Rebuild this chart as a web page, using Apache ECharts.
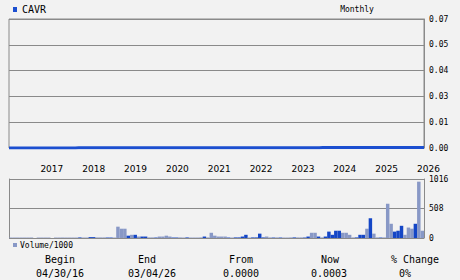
<!DOCTYPE html>
<html>
<head>
<meta charset="utf-8">
<script src="https://cdn.jsdelivr.net/npm/echarts@6/dist/echarts.min.js"></script>
<style>
html,body{margin:0;padding:0;background:#f2f2f2;}
#c{width:460px;height:280px;}
</style>
</head>
<body>
<div id="c"></div>
<script>
// ---- data ----
const startYear = 2016, startMonth = 4, monthCount = 120; // 04/2016 .. 03/2026
const yearLabels = ['2017','2018','2019','2020','2021','2022','2023','2024','2025','2026'];
const priceTicks = ['0.00','0.01','0.03','0.04','0.05','0.07'];
const volumeTicks = ['0','508','1016'];

// monthly close (tiny, hugs zero)
const prices = [
0.0000,0.0000,0.0000,0.0000,0.0000,0.0000,0.0000,0.0000,0.0000,0.0000,
0.0000,0.0000,0.0000,0.0000,0.0000,0.0000,0.0000,0.0000,0.0000,0.0000,
0.0001,0.0001,0.0001,0.0001,0.0001,0.0001,0.0001,0.0001,0.0001,0.0001,
0.0001,0.0001,0.0001,0.0001,0.0001,0.0001,0.0001,0.0001,0.0001,0.0001,
0.0001,0.0001,0.0001,0.0001,0.0001,0.0001,0.0001,0.0001,0.0001,0.0001,
0.0001,0.0001,0.0001,0.0001,0.0001,0.0001,0.0001,0.0001,0.0001,0.0001,
0.0001,0.0001,0.0001,0.0001,0.0001,0.0001,0.0001,0.0001,0.0001,0.0001,
0.0001,0.0001,0.0001,0.0001,0.0001,0.0001,0.0001,0.0001,0.0001,0.0001,
0.0001,0.0001,0.0001,0.0001,0.0001,0.0001,0.0001,0.0001,0.0001,0.0001,
0.0002,0.0002,0.0002,0.0002,0.0002,0.0002,0.0002,0.0002,0.0002,0.0002,
0.0002,0.0002,0.0002,0.0002,0.0002,0.0002,0.0002,0.0002,0.0003,0.0003,
0.0003,0.0003,0.0003,0.0003,0.0003,0.0003,0.0003,0.0003,0.0003,0.0003
];

// monthly volume / 1000
const volumes = [
8,8,8,8,8,8,8,0,8,8,
8,8,0,8,8,8,8,8,8,8,
10,8,8,15,15,10,10,10,8,8,
8,195,160,160,40,55,55,25,25,25,
10,10,8,25,25,40,25,8,8,10,
8,10,8,8,8,10,25,10,90,40,
25,25,25,8,8,10,10,25,55,8,
10,10,75,10,25,10,8,10,8,8,
8,10,10,10,10,8,25,90,90,25,
10,25,110,55,125,125,90,90,55,10,
10,55,55,160,340,75,10,8,10,590,
245,110,125,210,55,180,160,245,970,125
];
// 1 = up month (dark blue bar), 0 = down month (light bar)
const upMonth = [
0,0,0,0,0,0,0,0,0,0,
0,0,0,0,0,0,0,0,0,0,
1,0,0,1,1,0,0,0,1,1,
0,0,0,0,1,0,1,0,1,1,
0,0,1,0,0,0,0,1,1,0,
0,1,0,0,0,0,1,0,0,0,
0,0,0,1,0,1,1,1,1,0,
1,1,1,1,0,0,1,0,1,0,
0,0,1,0,0,1,1,0,0,1,
0,1,1,1,1,1,0,0,0,0,
1,1,1,0,1,0,0,1,0,0,
0,1,1,1,0,0,0,1,0,0
];

// ---- build ----
const months = [];
for (let i = 0; i < monthCount; i++) {
  const m0 = startMonth - 1 + i;
  const y = startYear + Math.floor(m0 / 12);
  const m = (m0 % 12) + 1;
  months.push(y + '-' + (m < 10 ? '0' + m : '' + m));
}
const BLUE_LINE = '#1c4fd0';
const UP = '#1446c6';
const DOWN = '#8898c6';
const GRIDC = '#8a8a8a';
const MONO = '"DejaVu Sans Mono", monospace';

const chart = echarts.init(document.getElementById('c'), null, {renderer: 'svg'});
chart.setOption({
  backgroundColor: '#f2f2f2',
  animation: false,
  grid: [
    {left: 9, right: 36, top: 19, height: 129, show: true, borderColor: GRIDC, borderWidth: 1, backgroundColor: 'transparent'},
    {left: 9, right: 36, top: 179, height: 59}
  ],
  xAxis: [
    {
      type: 'category', gridIndex: 0, data: months, boundaryGap: false,
      axisLine: {show: false}, axisTick: {show: false}, splitLine: {show: false},
      axisLabel: {
        show: true, margin: 16, align: 'left', color: '#000',
        fontFamily: '"DejaVu Sans", sans-serif', fontSize: 9,
        interval: function (idx, val) { return val.slice(5) === '01' && yearLabels.indexOf(val.slice(0, 4)) >= 0; },
        formatter: function (val) { return val.slice(0, 4); }
      }
    },
    {
      type: 'category', gridIndex: 1, data: months, boundaryGap: true,
      axisLine: {show: false}, axisTick: {show: false}, axisLabel: {show: false}, splitLine: {show: false}
    }
  ],
  yAxis: [
    {
      type: 'value', gridIndex: 0, position: 'right', min: 0, max: 0.066, interval: 0.0132,
      axisLine: {show: true, lineStyle: {color: GRIDC, width: 1}},
      axisTick: {show: false},
      splitLine: {show: true, lineStyle: {color: GRIDC, width: 1}},
      axisLabel: {
        margin: 5, color: '#000', fontFamily: MONO, fontSize: 8,
        formatter: function (v) { return priceTicks[Math.round(v / 0.0132)]; }
      }
    },
    {
      type: 'value', gridIndex: 1, position: 'right', min: 0, max: 1016, interval: 508,
      axisLine: {show: true, lineStyle: {color: GRIDC, width: 1}},
      axisTick: {show: false},
      splitLine: {show: true, lineStyle: {color: GRIDC, width: 1}},
      axisLabel: {
        margin: 5, color: '#000', fontFamily: MONO, fontSize: 8,
        formatter: function (v) { return volumeTicks[Math.round(v / 508)]; }
      }
    },
    {
      type: 'value', gridIndex: 1, position: 'left', min: 0, max: 1016, interval: 508,
      axisLine: {show: true, lineStyle: {color: GRIDC, width: 1}},
      axisTick: {show: false}, axisLabel: {show: false}, splitLine: {show: false}
    }
  ],
  series: [
    {
      type: 'line', xAxisIndex: 0, yAxisIndex: 0, data: prices,
      symbol: 'none', lineStyle: {color: BLUE_LINE, width: 3}, z: 5
    },
    {
      type: 'bar', xAxisIndex: 1, yAxisIndex: 1, barCategoryGap: '0%',
      data: volumes.map(function (v, i) { return {value: v, itemStyle: {color: upMonth[i] ? UP : DOWN}}; })
    }
  ],
  graphic: [
    {type: 'rect', shape: {x: 13, y: 7, width: 4, height: 5}, style: {fill: BLUE_LINE}},
    {type: 'text', x: 22, y: 9, style: {text: 'CAVR', fill: '#000', font: '10px ' + MONO, textVerticalAlign: 'middle'}},
    {type: 'text', x: 357, y: 9, style: {text: 'Monthly', fill: '#000', font: '8px ' + MONO, textAlign: 'center', textVerticalAlign: 'middle'}},
    {type: 'rect', shape: {x: 13, y: 243, width: 4, height: 4}, style: {fill: DOWN}},
    {type: 'text', x: 20, y: 245, style: {text: 'Volume/1000', fill: '#000', font: '8px ' + MONO, textVerticalAlign: 'middle'}},

    {type: 'text', x: 60, y: 259, style: {text: 'Begin', fill: '#000', font: '10px ' + MONO, textAlign: 'center', textVerticalAlign: 'middle'}},
    {type: 'text', x: 60, y: 273, style: {text: '04/30/16', fill: '#000', font: '10px ' + MONO, textAlign: 'center', textVerticalAlign: 'middle'}},
    {type: 'text', x: 147, y: 259, style: {text: 'End', fill: '#000', font: '10px ' + MONO, textAlign: 'center', textVerticalAlign: 'middle'}},
    {type: 'text', x: 152, y: 273, style: {text: '03/04/26', fill: '#000', font: '10px ' + MONO, textAlign: 'center', textVerticalAlign: 'middle'}},
    {type: 'text', x: 241, y: 259, style: {text: 'From', fill: '#000', font: '10px ' + MONO, textAlign: 'center', textVerticalAlign: 'middle'}},
    {type: 'text', x: 241, y: 273, style: {text: '0.0000', fill: '#000', font: '10px ' + MONO, textAlign: 'center', textVerticalAlign: 'middle'}},
    {type: 'text', x: 330, y: 259, style: {text: 'Now', fill: '#000', font: '10px ' + MONO, textAlign: 'center', textVerticalAlign: 'middle'}},
    {type: 'text', x: 329, y: 273, style: {text: '0.0003', fill: '#000', font: '10px ' + MONO, textAlign: 'center', textVerticalAlign: 'middle'}},
    {type: 'text', x: 415, y: 259, style: {text: '% Change', fill: '#000', font: '10px ' + MONO, textAlign: 'center', textVerticalAlign: 'middle'}},
    {type: 'text', x: 405, y: 273, style: {text: '0%', fill: '#000', font: '10px ' + MONO, textAlign: 'center', textVerticalAlign: 'middle'}}
  ]
});
</script>
</body>
</html>
